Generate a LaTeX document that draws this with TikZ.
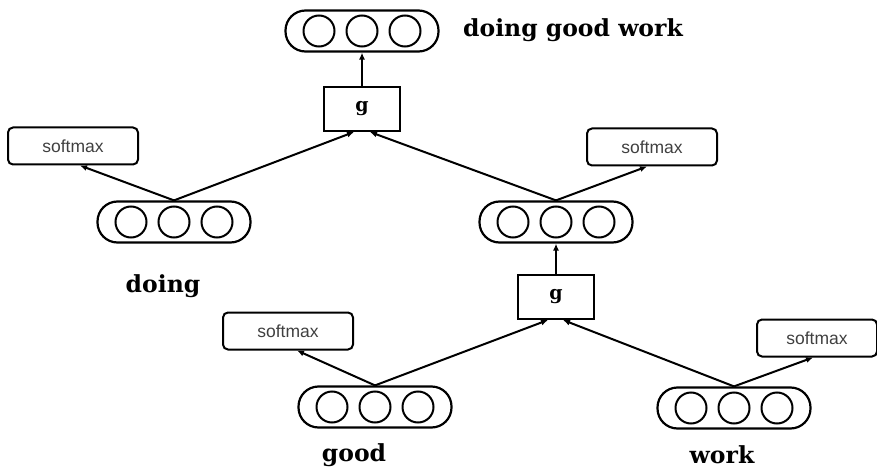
\documentclass[tikz,border=0pt]{standalone}
\usepackage{fontspec}
\setmainfont{DejaVu Serif}
\newfontfamily\smfont{Liberation Sans}
\usetikzlibrary{arrows.meta}
\tikzset{
  pill/.style={draw, line width=2.2pt, rounded corners=20pt, minimum width=153pt, minimum height=41pt, inner sep=0pt},
  cell/.style={draw, line width=2pt, circle, minimum size=31pt, inner sep=0pt},
  smbox/.style={draw, line width=2pt, rounded corners=5pt, minimum width=130pt, minimum height=37pt, inner sep=0pt, font=\smfont\fontsize{17.5}{17.5}\selectfont, text=black!75},
  gbox/.style={draw, line width=2pt, minimum width=76pt, minimum height=44pt, inner sep=0pt, font=\bfseries\fontsize{19}{19}\selectfont},
  word/.style={font=\bfseries\fontsize{23.5}{23.5}\selectfont},
  arr/.style={line width=2pt, -{Latex[length=7pt,width=6pt]}}
}
\begin{document}
\begin{tikzpicture}[x=1pt,y=-1pt]
  \useasboundingbox (0,0) rectangle (877,473);

  % word / phrase vectors
  \node[pill] (top)  at (362,31)  {};
  \node[pill] (doing) at (174,222) {};
  \node[pill] (mid)  at (556,222) {};
  \node[pill] (good) at (375,407) {};
  \node[pill] (work) at (734,408) {};
  \foreach \v in {top,doing,mid,good,work}{
    \node[cell] (\v-l) at ([xshift=-43pt]\v.center) {};
    \node[cell] (\v-c) at (\v.center) {};
    \node[cell] (\v-r) at ([xshift=43pt]\v.center) {};
  }

  % composition units
  \node[gbox] (g1) at (362,109) {g};
  \node[gbox] (g2) at (556,297) {g};

  % softmax classifiers
  \node[smbox] (sm1) at (73,146)  {softmax};
  \node[smbox] (sm2) at (652,147) {softmax};
  \node[smbox] (sm3) at (288,331) {softmax};
  \node[smbox, minimum width=120pt] (sm4) at (817,338) {softmax};

  % labels
  \node[word] (lt) at (573,30)  {doing good work};
  \node[word] (ld) at (163,286) {doing};
  \node[word] (lg) at (354,455) {good};
  \node[word] (lw) at (722,455) {work};

  % connectors
  \draw[arr] (g1.north) -- (top.south);
  \draw[arr] (g2.north) -- (mid.south);
  \draw[arr] (doing.north) -- ([xshift=-8pt]g1.south);
  \draw[arr] (mid.north) -- ([xshift=8pt]g1.south);
  \draw[arr] (good.north) -- ([xshift=-8pt]g2.south);
  \draw[arr] (work.north) -- ([xshift=7pt]g2.south);
  \draw[arr] (doing.north) -- ([xshift=7pt]sm1.south);
  \draw[arr] (mid.north) -- ([xshift=-5pt]sm2.south);
  \draw[arr] (good.north) -- ([xshift=9pt]sm3.south);
  \draw[arr] (work.north) -- ([xshift=-4pt]sm4.south);
\end{tikzpicture}
\end{document}
